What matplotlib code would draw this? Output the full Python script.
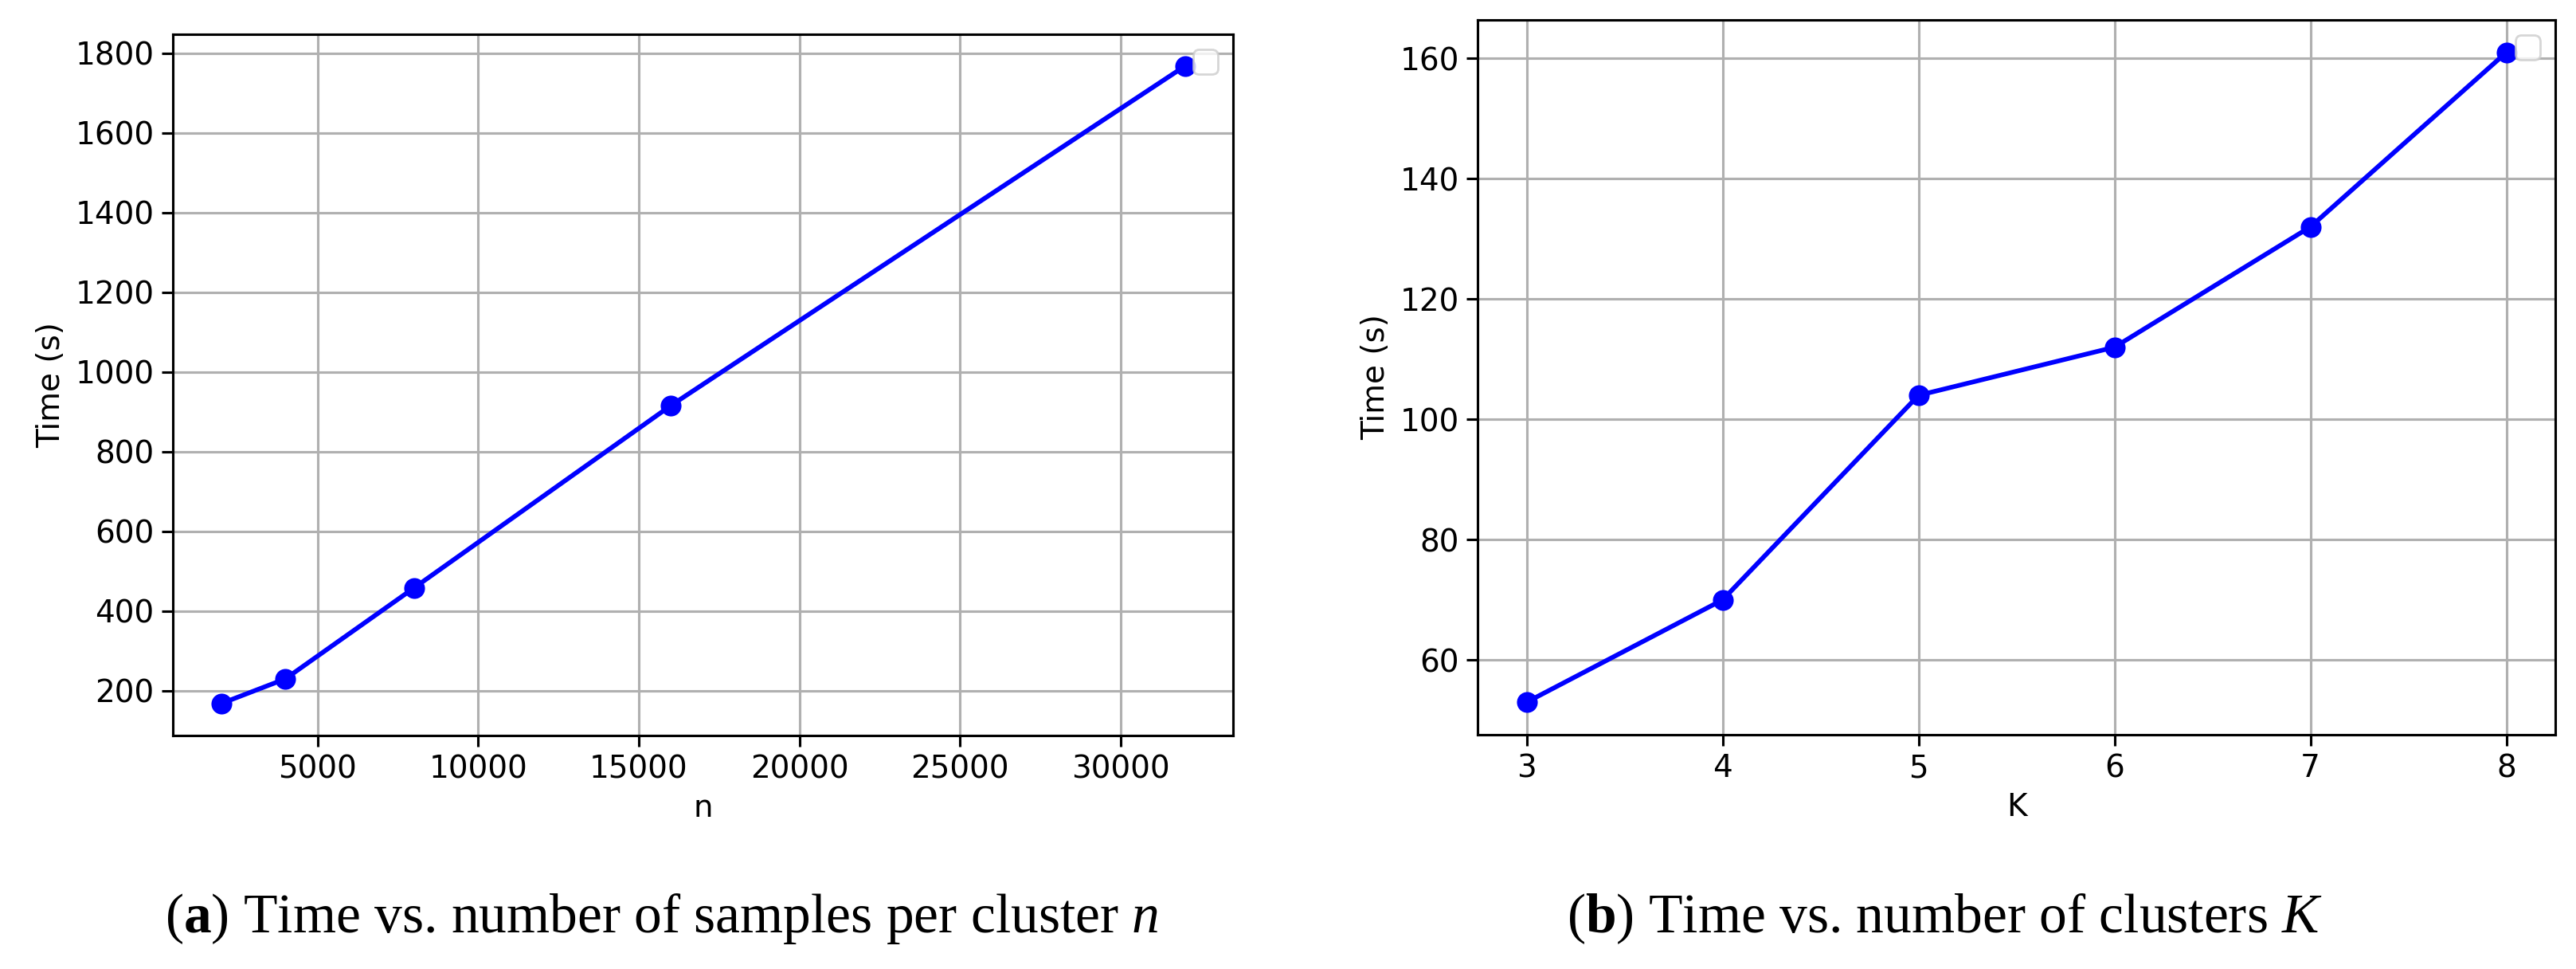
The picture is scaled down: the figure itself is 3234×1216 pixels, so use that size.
import matplotlib
matplotlib.use('Agg')
import matplotlib.pyplot as plt

# Data
n_samples = [2000, 4000, 8000, 16000, 32000]
time_n = [168, 230, 458, 916, 1768]

k_clusters = [3, 4, 5, 6, 7, 8]
time_k = [53, 70, 104, 112, 132, 161]

captions = [r"($\mathbf{a}$) Time vs. number of samples per cluster $n$",
            r"($\mathbf{b}$) Time vs. number of clusters $K$"]

# Scale matplotlib defaults up a bit (figure is drawn at 200 dpi)
s = 1.4
plt.rcParams.update({
    'font.size': 10 * s,
    'axes.linewidth': 0.8 * s,
    'grid.linewidth': 0.8 * s,
    'xtick.major.size': 3.5 * s,
    'ytick.major.size': 3.5 * s,
    'xtick.major.width': 0.8 * s,
    'ytick.major.width': 0.8 * s,
    'mathtext.fontset': 'custom',
    'mathtext.rm': 'Liberation Serif',
    'mathtext.it': 'Liberation Serif:italic',
    'mathtext.bf': 'Liberation Serif:bold',
})

fig = plt.figure(figsize=(16.17, 6.08), dpi=200, facecolor='white')
ax1 = fig.add_axes([0.0671, 0.2410, 0.4116, 0.7237])
ax2 = fig.add_axes([0.5736, 0.2418, 0.4184, 0.7377])

ax1.plot(n_samples, time_n, marker='o', color='blue', linewidth=1.5 * s, markersize=6 * s)
ax1.set_xlabel('n')
ax1.set_ylabel('Time (s)')
ax1.grid(True)
ax1.legend(loc='upper right')

ax2.plot(k_clusters, time_k, marker='o', color='blue', linewidth=1.5 * s, markersize=6 * s)
ax2.set_xlabel('K')
ax2.set_ylabel('Time (s)')
ax2.grid(True)
ax2.legend(loc='upper right')

# Subfigure captions
fig.text(0.257, 0.052, captions[0], ha='center', va='center', fontsize=25, family='Liberation Serif')
fig.text(0.755, 0.052, captions[1], ha='center', va='center', fontsize=25, family='Liberation Serif')

fig.savefig('out.png', dpi=200, facecolor='white')
